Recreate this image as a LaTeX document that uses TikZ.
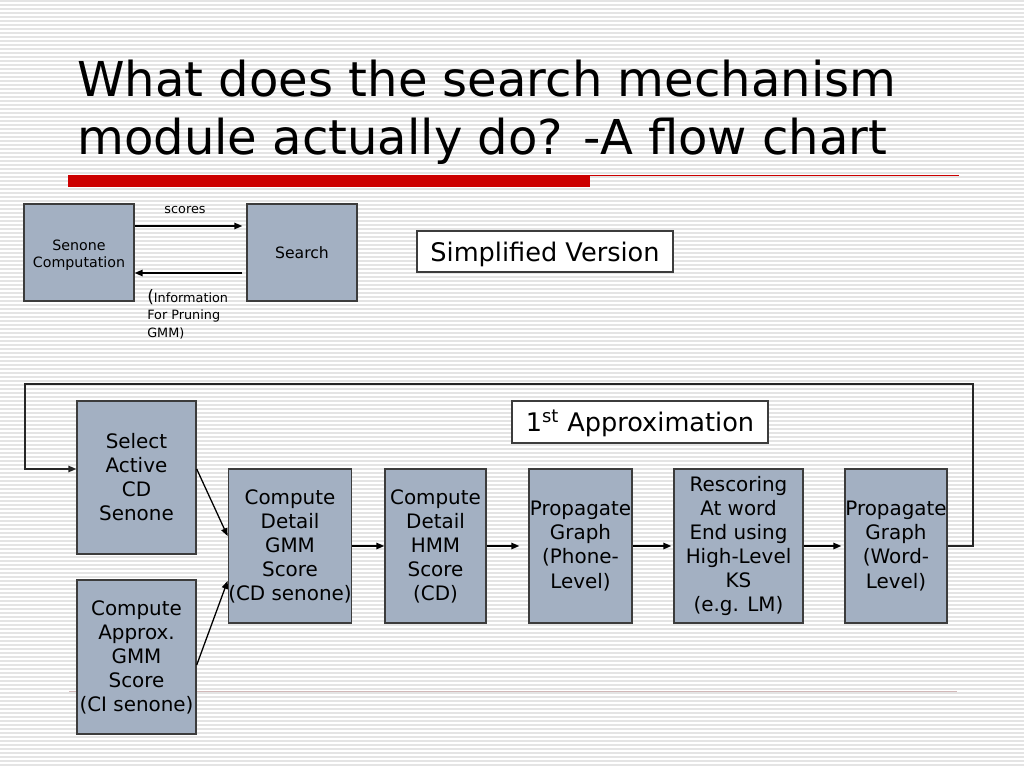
\documentclass[tikz,border=0pt]{standalone}
\usepackage{fontspec}
\setmainfont{DejaVu Sans}
\usetikzlibrary{arrows.meta}
\definecolor{boxfill}{RGB}{163,176,194}
\definecolor{boxline}{RGB}{60,60,60}
\definecolor{stripe}{RGB}{228,228,228}
\definecolor{barred}{RGB}{204,0,0}
\definecolor{thinline}{RGB}{210,185,185}
\newcommand\pxu{0.703125pt}
\begin{document}
\begin{tikzpicture}[x=0.703125pt,y=-0.703125pt,
  blk/.style={draw=boxline, fill=boxfill, line width=1pt, inner sep=0pt, align=center,
    font=\fontsize{14}{16.9}\selectfont},
  wbox/.style={draw=boxline, fill=white, line width=0.8pt, inner sep=0pt, align=center,
    font=\fontsize{18}{21}\selectfont},
  arr/.style={line width=0.9pt, -{Triangle[length=5.5pt,width=4.5pt]}},
  conn/.style={line width=0.9pt, draw=black!85}]
\useasboundingbox (0,0) rectangle (1024,768);
\fill[white] (0,0) rectangle (1024,768);
\foreach \yy in {1,5,...,768} \draw[stripe, line width=0.9pt] (0,\yy) -- (1024,\yy);

% title
\node[anchor=base west, inner sep=0pt, font=\fontsize{33.8}{40}\selectfont] (t1) at (77,97) {What does the search mechanism};
\node[anchor=base west, inner sep=0pt, font=\fontsize{33.8}{40}\selectfont] (t2) at (77,155) {module actually do? -A flow chart};
\fill[barred] (68,175) rectangle (590,187);
\draw[barred, line width=0.9pt] (590,175.5) -- (959,175.5);
\draw[thinline, line width=0.6pt] (69,691) -- (957,691);

% simplified version
\node[blk, minimum width=110*\pxu, minimum height=97*\pxu, font=\fontsize{10}{12}\selectfont] (sen) at (79,252.5) {\raisebox{-2pt}[\height][\depth]{\begin{tabular}{@{}c@{}}Senone\\Computation\end{tabular}}};
\node[blk, minimum width=110*\pxu, minimum height=97*\pxu, font=\fontsize{11}{13}\selectfont] (srch) at (302,252.5) {Search};
\draw[arr, shorten >=4*\pxu] (sen.east |- 0,226) -- (srch.west |- 0,226);
\draw[arr, shorten <=4*\pxu] (srch.west |- 0,273) -- (sen.east |- 0,273);
\node[inner sep=0pt, font=\fontsize{9}{11}\selectfont] (sclab) at (185,210) {scores};
\node[anchor=north west, inner sep=0pt, align=left, font=\fontsize{9}{12.3}\selectfont] (info) at (147,289) {{\fontsize{12}{12}\selectfont(}Information\\For Pruning\\GMM)};
\node[wbox, minimum width=256*\pxu, minimum height=41*\pxu] (simp) at (545,251.5) {\raisebox{-2pt}[\height][\depth]{Simplified Version}};

% flow chart
\node[wbox, minimum width=256*\pxu, minimum height=42*\pxu] (appr) at (640,422) {\raisebox{-0.7pt}[\height][\depth]{1\textsuperscript{st} Approximation}};
\node[blk, minimum width=119*\pxu, minimum height=153*\pxu] (sel) at (136.5,477.5) {Select\\Active\\CD\\Senone};
\node[blk, minimum width=119*\pxu, minimum height=154*\pxu] (apx) at (136.5,657) {Compute\\Approx.\\GMM\\Score\\(CI senone)};
\node[blk, minimum width=120*\pxu, minimum height=154*\pxu] (gmm) at (290,546) {Compute\\Detail\\GMM\\Score\\(CD senone)};
\node[blk, minimum width=101*\pxu, minimum height=154*\pxu] (hmm) at (435.5,546) {Compute\\Detail\\HMM\\Score\\(CD)};
\node[blk, minimum width=103*\pxu, minimum height=154*\pxu] (pph) at (580.5,546) {Propagate\\Graph\\(Phone-\\Level)};
\node[blk, minimum width=129*\pxu, minimum height=154*\pxu] (resc) at (738.5,546) {Rescoring\\At word\\End using\\High-Level\\KS\\(e.g. LM)};
\node[blk, minimum width=102*\pxu, minimum height=154*\pxu] (pwd) at (896,546) {Propagate\\Graph\\(Word-\\Level)};

\draw[arr] (gmm.east) -- (hmm.west);
\draw[arr, shorten >=9*\pxu] (hmm.east) -- (pph.west);
\draw[arr, shorten >=2*\pxu] (pph.east) -- (resc.west);
\draw[arr, shorten >=3*\pxu] (resc.east) -- (pwd.west);
\draw[arr] (sel.east |- 0,469) -- (gmm.west |- 0,536);
\draw[arr] (apx.east |- 0,665) -- (gmm.west |- 0,581);

\coordinate (lpR) at (973,384);
\coordinate (lpL) at (25,384);
\draw[arr, draw=black!85] (pwd.east) -| (lpR) -- (lpL) |- (sel.west |- 0,469);
\end{tikzpicture}
\end{document}
